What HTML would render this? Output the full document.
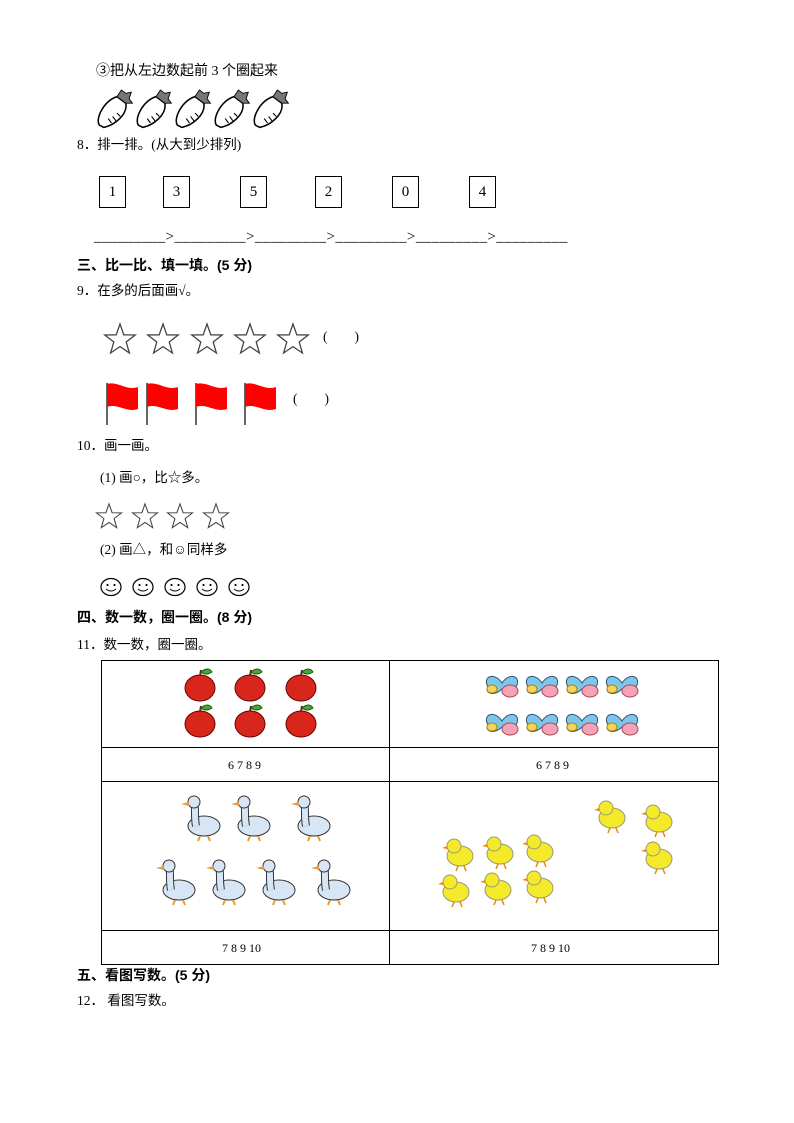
<!DOCTYPE html>
<html><head><meta charset="utf-8"><style>
body{margin:0;width:794px;height:1123px;background:#fff;position:relative;font-family:"Liberation Serif","Noto Sans CJK SC",sans-serif;color:#000;overflow:hidden}
.t{position:absolute;font-size:13.5px;white-space:nowrap;line-height:16px}
.b{font-weight:bold;font-family:"Liberation Sans","Noto Sans CJK SC",sans-serif}
.box{position:absolute;width:25px;height:30px;border:1px solid #000;font-size:15px;text-align:center;line-height:30px;top:176px}
svg{position:absolute;left:0;top:0}
</style></head><body>
<div class="t" style="left:96px;top:64px;font-size:14px">③把从左边数起前 3 个圈起来</div>
<div class="t" style="left:77px;top:137px">8．排一排。(从大到少排列)</div>
<div class="box" style="left:99px">1</div><div class="box" style="left:163px">3</div><div class="box" style="left:240px">5</div><div class="box" style="left:315px">2</div><div class="box" style="left:392px">0</div><div class="box" style="left:469px">4</div>
<div class="t" style="left:94px;top:229px;font-size:15px;letter-spacing:0.45px">_________&gt;_________&gt;_________&gt;_________&gt;_________&gt;_________</div>
<div class="t b" style="left:77px;top:257px;font-size:14px">三、比一比、填一填。(5 分)</div>
<div class="t" style="left:77px;top:283px">9．在多的后面画√。</div>
<div class="t" style="left:323px;top:329px">(　　)</div>
<div class="t" style="left:293px;top:391px">(　　)</div>
<div class="t" style="left:77px;top:438px">10．画一画。</div>
<div class="t" style="left:100px;top:470px">(1) 画○，比☆多。</div>
<div class="t" style="left:100px;top:542px">(2) 画△，和☺同样多</div>
<div class="t b" style="left:77px;top:609px;font-size:14px">四、数一数，圈一圈。(8 分)</div>
<div class="t" style="left:77px;top:637px">11．数一数，圈一圈。</div>
<div class="t" style="left:228px;top:757px;font-size:12px">6 7 8 9</div>
<div class="t" style="left:536px;top:757px;font-size:12px">6 7 8 9</div>
<div class="t" style="left:222px;top:940px;font-size:12px">7 8 9 10</div>
<div class="t" style="left:531px;top:940px;font-size:12px">7 8 9 10</div>
<div class="t b" style="left:77px;top:967px;font-size:14px">五、看图写数。(5 分)</div>
<div class="t" style="left:77px;top:993px">12．  看图写数。</div>
<svg width="794" height="1123">
<defs>
<g id="car"><path d="M4 32 C0 26 8 10 20 6 L28 12 C30 22 18 32 8 34 Z" fill="#fff" stroke="#000" stroke-width="1.4"/><path d="M20 6 L24 0 L28 3 L33 2 L31 8 L34 12 L28 12 Z" fill="#777" stroke="#000" stroke-width=".8"/><path d="M12 26 l3 4 M16 24 l3 4 M20 21 l3 3" stroke="#000"/></g>
<polygon id="st" points="0,-16 3.8,-5.2 15.2,-5 6.2,2 9.4,13 0,6.6 -9.4,13 -6.2,2 -15.2,-5 -3.8,-5.2" fill="#fff" stroke="#444" stroke-width="1.3"/>
<g id="fl"><line x1="1" y1="0" x2="1" y2="42" stroke="#333" stroke-width="1.5"/><path d="M1 1 C12 -2 20 8 32 4 L32 26 C20 30 12 20 1 24 Z" fill="#f00"/></g>
<g id="sm"><ellipse cx="0" cy="0" rx="10" ry="8.5" fill="#fff" stroke="#000" stroke-width="1.2"/><circle cx="-3.5" cy="-2" r="1.1"/><circle cx="3.5" cy="-2" r="1.1"/><path d="M-5 2 Q0 6 5 2" fill="none" stroke="#000"/></g>
<g id="ap"><ellipse cx="0" cy="2" rx="15" ry="13" fill="#d9261c" stroke="#600" stroke-width="1"/><path d="M0 -10 L1 -16" stroke="#532" stroke-width="2"/><path d="M1 -14 Q8 -20 12 -14 Q6 -10 1 -14" fill="#4a3" stroke="#250"/></g>
<g id="bf"><path d="M0 0 C-8 -12 -20 -6 -14 4 C-18 10 -8 14 0 6 C8 14 18 10 14 4 C20 -6 8 -12 0 0Z" fill="#7cc6ea" stroke="#357"/><ellipse cx="8" cy="8" rx="8" ry="6" fill="#f4a3b8" stroke="#a45"/><ellipse cx="-10" cy="6" rx="5" ry="4" fill="#f7d35e" stroke="#a80"/></g>
<g id="dk"><ellipse cx="4" cy="14" rx="16" ry="10" fill="#d7e6f4" stroke="#333"/><path d="M-4 14 C-6 4 -4 -4 -6 -8" stroke="#333" stroke-width="8" fill="none"/><path d="M-4 14 C-6 4 -4 -4 -6 -8" stroke="#d7e6f4" stroke-width="6" fill="none"/><circle cx="-6" cy="-10" r="6" fill="#d7e6f4" stroke="#333"/><path d="M-11 -10 L-19 -8 L-11 -6Z" fill="#e8993a"/><path d="M0 24 l-2 5 M8 24 l2 5" stroke="#e8993a" stroke-width="2"/></g>
<g id="ck"><ellipse cx="0" cy="4" rx="13" ry="10" fill="#f5ea2a" stroke="#997"/><circle cx="-6" cy="-6" r="7" fill="#f5ea2a" stroke="#997"/><path d="M-13 -6 l-5 2 l5 1z" fill="#e80"/><path d="M-2 14 l-2 5 M4 14 l2 5" stroke="#e80" stroke-width="1.5"/></g>
</defs>
<g transform="translate(95,90) scale(1.1)"><use href="#car"/></g><g transform="translate(134,90) scale(1.1)"><use href="#car"/></g><g transform="translate(173,90) scale(1.1)"><use href="#car"/></g><g transform="translate(212,90) scale(1.1)"><use href="#car"/></g><g transform="translate(251,90) scale(1.1)"><use href="#car"/></g>
<use href="#st" x="120" y="340"/><use href="#st" x="163" y="340"/><use href="#st" x="207" y="340"/><use href="#st" x="250" y="340"/><use href="#st" x="293" y="340"/>
<use href="#fl" x="106" y="383"/><use href="#fl" x="146" y="383"/><use href="#fl" x="195" y="383"/><use href="#fl" x="244" y="383"/>
<g transform="translate(109,517) scale(.82)"><use href="#st"/></g><g transform="translate(145,517) scale(.82)"><use href="#st"/></g><g transform="translate(180,517) scale(.82)"><use href="#st"/></g><g transform="translate(216,517) scale(.82)"><use href="#st"/></g>
<use href="#sm" x="111" y="587"/><use href="#sm" x="143" y="587"/><use href="#sm" x="175" y="587"/><use href="#sm" x="207" y="587"/><use href="#sm" x="239" y="587"/>
<g fill="none" stroke="#000" stroke-width="1"><rect x="101.5" y="660.5" width="617" height="304"/><line x1="389.5" y1="660" x2="389.5" y2="965"/><line x1="101" y1="747.5" x2="718" y2="747.5"/><line x1="101" y1="781.5" x2="718" y2="781.5"/><line x1="101" y1="930.5" x2="718" y2="930.5"/></g>
<use href="#ap" x="200" y="686"/><use href="#ap" x="250" y="686"/><use href="#ap" x="301" y="686"/><use href="#ap" x="200" y="722"/><use href="#ap" x="250" y="722"/><use href="#ap" x="301" y="722"/>
<use href="#bf" x="502" y="683"/><use href="#bf" x="542" y="683"/><use href="#bf" x="582" y="683"/><use href="#bf" x="622" y="683"/><use href="#bf" x="502" y="721"/><use href="#bf" x="542" y="721"/><use href="#bf" x="582" y="721"/><use href="#bf" x="622" y="721"/>
<use href="#dk" x="200" y="812"/><use href="#dk" x="250" y="812"/><use href="#dk" x="310" y="812"/><use href="#dk" x="175" y="876"/><use href="#dk" x="225" y="876"/><use href="#dk" x="275" y="876"/><use href="#dk" x="330" y="876"/>
<use href="#ck" x="460" y="852"/><use href="#ck" x="500" y="850"/><use href="#ck" x="540" y="848"/><use href="#ck" x="456" y="888"/><use href="#ck" x="498" y="886"/><use href="#ck" x="540" y="884"/><use href="#ck" x="612" y="814"/><use href="#ck" x="659" y="818"/><use href="#ck" x="659" y="855"/>
</svg>
</body></html>
